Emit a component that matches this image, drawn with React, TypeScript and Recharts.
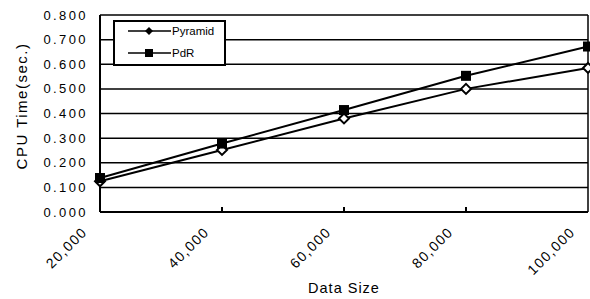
import { CartesianGrid, Label, Line, LineChart, ReferenceLine, XAxis, YAxis } from "recharts";

const sizes = ["20,000", "40,000", "60,000", "80,000", "100,000"];
const pyramid = [0.125, 0.252, 0.38, 0.5, 0.585];
const pdr = [0.138, 0.278, 0.414, 0.553, 0.672];
const yTicks = [0, 0.1, 0.2, 0.3, 0.4, 0.5, 0.6, 0.7, 0.8];

const data = sizes.map((s, i) => ({ size: s, pyramid: pyramid[i], pdr: pdr[i] }));

const FONT = "'Liberation Sans', Arial, sans-serif";

const Diamond = ({ cx, cy }: any) => (
  <path d={`M${cx},${cy - 5} L${cx + 5},${cy} L${cx},${cy + 5} L${cx - 5},${cy} Z`} fill="#fff" stroke="#000" strokeWidth={2} />
);

const Square = ({ cx, cy }: any) => <rect x={cx - 5} y={cy - 5} width={10} height={10} fill="#000" />;

const XTick = ({ x, y, payload, index }: any) => {
  const tx = x - 12;
  const ty = y + 21;
  return (
    <g>
      {index > 0 && index < sizes.length - 1 && <line x1={x} x2={x} y1={y} y2={y - 5} stroke="#000" strokeWidth={2} />}
      <text x={tx} y={ty} transform={`rotate(-45, ${tx}, ${ty})`} textAnchor="end" fontSize={14} letterSpacing={1.4} fontFamily={FONT} fill="#000">
        {payload.value}
      </text>
    </g>
  );
};

const LegendBox = () => (
  <div style={{ position: "absolute", left: 113, top: 20, width: 113, height: 46, border: "2px solid #000", background: "#fff", boxSizing: "border-box" }}>
    <svg width={109} height={42} style={{ display: "block" }}>
      <line x1={13} x2={56} y1={9} y2={9} stroke="#000" strokeWidth={1.5} />
      <path d="M34,5 L38,9 L34,13 L30,9 Z" fill="#000" />
      <text x={57} y={13} fontSize={11.5} fontFamily={FONT}>Pyramid</text>
      <line x1={13} x2={56} y1={31} y2={31} stroke="#000" strokeWidth={1.5} />
      <rect x={30} y={27} width={8} height={8} fill="#000" />
      <text x={57} y={35} fontSize={11.5} fontFamily={FONT}>PdR</text>
    </svg>
  </div>
);

export default function App() {
  return (
    <div style={{ position: "absolute", left: 0, top: 0, width: 590, height: 299, background: "#fff" }}>
      <LineChart width={590} height={299} data={data} margin={{ top: 15, right: 2, left: 0, bottom: 0 }}>
        <CartesianGrid vertical={false} stroke="#000" strokeWidth={1.5} />
        <XAxis
          dataKey="size"
          height={87}
          tickSize={0}
          tickMargin={0}
          tickLine={false}
          axisLine={{ stroke: "#000", strokeWidth: 2 }}
          tick={<XTick />}
          interval={0}
        >
          <Label value="Data Size" position="insideBottom" offset={6} fontSize={14.5} letterSpacing={1} fontFamily={FONT} fill="#000" />
        </XAxis>
        <YAxis
          width={100}
          domain={[0, 0.8]}
          ticks={yTicks}
          interval={0}
          tickFormatter={(v: number) => v.toFixed(3)}
          tickSize={0}
          tickMargin={12}
          tickLine={false}
          axisLine={{ stroke: "#000", strokeWidth: 2 }}
          tick={{ fontSize: 13, letterSpacing: 2.4, fontFamily: FONT, fill: "#000" }}
        >
          <Label
            content={() => (
              <text x={21} y={106} transform="rotate(-90, 21, 106)" textAnchor="middle" dominantBaseline="central" fontSize={15} letterSpacing={1.5} fontFamily={FONT} fill="#000">
                CPU Time(sec.)
              </text>
            )}
          />
        </YAxis>
        <ReferenceLine x="100,000" stroke="#000" strokeWidth={1.5} />
        <Line type="linear" dataKey="pyramid" name="Pyramid" stroke="#000" strokeWidth={2} dot={<Diamond />} isAnimationActive={false} />
        <Line type="linear" dataKey="pdr" name="PdR" stroke="#000" strokeWidth={2} dot={<Square />} isAnimationActive={false} />
      </LineChart>
      <LegendBox />
    </div>
  );
}
